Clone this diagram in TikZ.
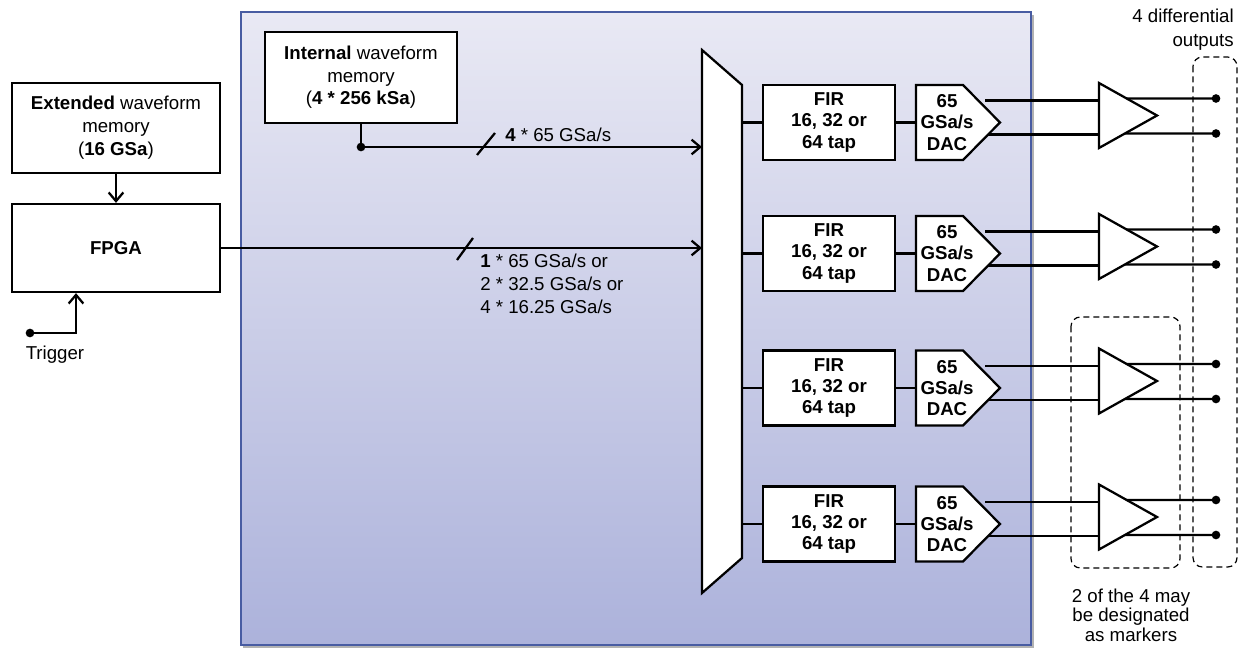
\documentclass[tikz,border=0pt]{standalone}
\usepackage{fontspec}
\setmainfont{Liberation Sans}
\usetikzlibrary{arrows.meta,calc}
\definecolor{paneltop}{RGB}{233,233,244}
\definecolor{panelbot}{RGB}{172,178,219}
\definecolor{panelline}{RGB}{72,92,162}

\begin{document}
\begin{tikzpicture}[x=0.75pt,y=-0.75pt,
  wire/.style={line width=1.7pt},
  arr/.style={wire,-{Straight Barb[length=6.5pt,width=11pt]}},
  txt/.style={font=\fontsize{14}{17.25}\selectfont},
  box/.style={draw,line width=1.7pt,fill=white,align=center,inner sep=2pt,txt},
  firbox/.style={box,minimum width=99pt,minimum height=56.25pt,
    font=\bfseries\fontsize{14}{16}\selectfont},
  dactext/.style={align=center,inner sep=0pt,font=\bfseries\fontsize{14}{16}\selectfont},
  lbl/.style={inner sep=0pt,txt},
  dot/.style={circle,fill,inner sep=0pt,minimum size=6.5pt},
  bracket/.style={draw,line width=0.9pt,dash pattern=on 4.5pt off 3pt,rounded corners=7pt}
]
\useasboundingbox (0,0) rectangle (1245,649);

% instrument panel with soft shadow and vertical gradient
\fill[black!30] (243,15) rectangle (1034,648);
\shade[top color=paneltop,bottom color=panelbot] (241,12) rectangle (1031,645);
\draw[panelline,line width=1pt] (241,12) rectangle (1031,645);

% memories and FPGA
\node[box,minimum width=156pt,minimum height=67.5pt] (ext) at (116,128)
  {\textbf{Extended} waveform\\memory\\(\textbf{16 GSa})};
\node[box,minimum width=156pt,minimum height=66pt,font=\bfseries\fontsize{14}{17.25}\selectfont]
  (fpga) at (116,248) {FPGA};
\node[box,minimum width=144pt,minimum height=68.25pt,
  font=\fontsize{14}{16.9}\selectfont] (int) at (361,77.5)
  {\textbf{Internal} waveform\\memory\\(\textbf{4 * 256 kSa})};

% multiplexer
\draw[wire,fill=white] (702,50) -- (742,85) -- (742,558) -- (702,593) -- cycle;
\coordinate (muxA) at (702,147);
\coordinate (muxB) at (702,248);

% trigger input
\node[dot] (trg) at (30,333) {};
\node[lbl] (trgl) at (55,355) {Trigger};
\draw[arr] (trg.center) -| ($(fpga.south)+(-40,0)$);

% memory paths into the multiplexer
\draw[arr] (ext.south) -- (fpga.north);
\node[dot] (j) at (361,147) {};
\draw[wire] (int.south) -- (j.center);
\draw[arr] (j.center) -- (muxA);
\draw[arr] (fpga.east) -- (muxB);

% bus width marks and rates
\draw[wire] (477,155) -- (495,133);
\draw[wire] (457,260) -- (473,238);
\node[lbl,anchor=west] (r4) at (505,135) {\textbf{4} * 65 GSa/s};
\node[lbl,anchor=west,align=left,font=\fontsize{14}{17.4}\selectfont] (r1) at (480,284)
  {\textbf{1} * 65 GSa/s or\\2 * 32.5 GSa/s or\\4 * 16.25 GSa/s};

% four output channels
\foreach \i/\cy in {1/122.5,2/253.5,3/388,4/524}{
  \coordinate (muxo\i) at (742,\cy);
  \node[firbox] (fir\i) at (829,\cy) {FIR\\16, 32 or\\64 tap};
  \coordinate (dacin\i) at (916,\cy);
  \draw[wire] (muxo\i) -- (fir\i.west);
  \draw[wire] (fir\i.east) -- (dacin\i);
  % amplifier corners
  \coordinate (ampT\i) at (1099,\cy-39.5);
  \coordinate (ampB\i) at (1099,\cy+25.5);
  \coordinate (ampP\i) at (1157,\cy-7);
  \coordinate (dacP\i) at (985,\cy-22);
  \coordinate (dacN\i) at (985,\cy+12);
  \draw[wire] (dacP\i) -- (1099,\cy-22);
  \draw[wire] (dacN\i) -- (1099,\cy+12);
  % DAC block
  \draw[wire,fill=white] (dacin\i) -- (916,\cy-37.5) -- (963,\cy-37.5) -- (1000,\cy)
    -- (963,\cy+37.5) -- (916,\cy+37.5) -- cycle;
  \node[dactext] (dac\i) at (947,\cy) {65\\GSa/s\\DAC};
  % output amplifier
  \draw[wire,fill=white] (ampT\i) -- (ampP\i) -- (ampB\i) -- cycle;
  \node[dot] (oP\i) at (1216,\cy-24) {};
  \node[dot] (oN\i) at (1216,\cy+11) {};
  \draw[wire] ($(ampT\i)!0.477!(ampP\i)$) -- (oP\i.center);
  \draw[wire] ($(ampB\i)!0.446!(ampP\i)$) -- (oN\i.center);
}

% output groupings
\draw[bracket] (1193,57) rectangle (1237,567);
\draw[bracket] (1071,317) rectangle (1180,568);
\node[lbl,anchor=east,align=right,font=\fontsize{14}{18}\selectfont] (outl) at (1234,30)
  {4 differential\\outputs};
\node[lbl,align=center,font=\fontsize{14}{14.5}\selectfont] (mkl) at (1131,615)
  {2 of the 4 may\\be designated\\as markers};
\end{tikzpicture}
\end{document}
